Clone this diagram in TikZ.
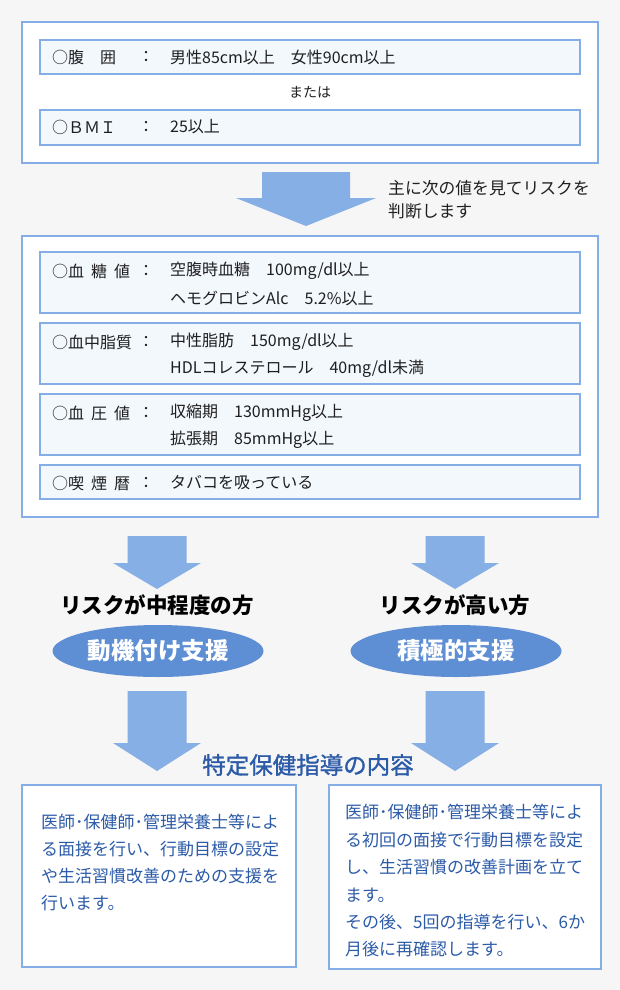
\documentclass[tikz,border=0pt]{standalone}
\usepackage{fontspec}
\setmainfont{Noto Sans CJK JP}
\newfontfamily\medfont[FakeBold=1.3]{Noto Sans CJK JP}
\usetikzlibrary{shapes.geometric}
\definecolor{bgcol}{HTML}{F7F6F6}
\definecolor{linecol}{HTML}{86AEE6}
\definecolor{rowcol}{HTML}{F3F8FD}
\definecolor{arrowcol}{HTML}{86AFE6}
\definecolor{ovalcol}{HTML}{5E8FD4}
\definecolor{textblue}{HTML}{2C5BA8}

\begin{document}
\begin{tikzpicture}[x=1pt,y=-1pt,
  box/.style={draw=linecol,line width=1.3pt,fill=white,anchor=north west,inner sep=0pt,outer sep=0pt},
  row/.style={box,fill=rowcol,minimum width=540pt},
  txt/.style={anchor=west,inner sep=0pt,text=black!88,font=\fontsize{16}{19}\selectfont},
  colon/.style={txt,anchor=center},
  head/.style={inner sep=0pt,text=black,font=\fontsize{21.5}{25}\selectfont\bfseries},
  oval/.style={ellipse,fill=ovalcol,minimum width=211pt,minimum height=52pt,inner sep=0pt,
    text=white,font=\fontsize{23.5}{27}\selectfont\bfseries},
  note/.style={anchor=west,inner sep=0pt,text=textblue,font=\fontsize{17}{20}\selectfont}]
  \fill[bgcol] (0,0) rectangle (620,990);
  % outer boxes
  \node (top) [box,minimum width=576pt,minimum height=141pt] at (22,22) {};
  \node (mid) [box,minimum width=576pt,minimum height=281pt] at (22,236) {};
  \node (lbox) [box,minimum width=274pt,minimum height=182pt] at (22,785) {};
  \node (rbox) [box,minimum width=272pt,minimum height=184pt] at (329,785) {};
  % rows
  \node (r1) [row,minimum height=34pt] at (40,40) {};
  \node (r2) [row,minimum height=35pt] at (40,110) {};
  \node (r3) [row,minimum height=61pt] at (40,252) {};
  \node (r4) [row,minimum height=61pt] at (40,323) {};
  \node (r5) [row,minimum height=61pt] at (40,394) {};
  \node (r6) [row,minimum height=34pt] at (40,465) {};
  \node (r1_l) [txt] at (52,57) {○腹　囲};
  \node (r1_c) [colon] at (146,57) {：};
  \node (r1_v) [txt] at (170,57) {男性85cm以上　女性90cm以上};
  \node (or) [txt,anchor=center,font=\fontsize{14}{17}\selectfont] at (310,92) {または};
  \node (r2_l) [txt] at (52,127) {○ＢＭＩ};
  \node (r2_c) [colon] at (146,127) {：};
  \node (r2_v) [txt] at (170,127) {25以上};
  \node (r3_l) [txt] at (52,271) {○血\hspace{7pt}糖\hspace{7pt}値};
  \node (r3_c) [colon] at (146,271) {：};
  \node (r3_v) [txt] at (170,271) {空腹時血糖　100mg/dl以上};
  \node (r3_w) [txt] at (170,298) {ヘモグロビンAlc　5.2\%以上};
  \node (r4_l) [txt] at (52,342) {○血中脂質};
  \node (r4_c) [colon] at (146,342) {：};
  \node (r4_v) [txt] at (170,342) {中性脂肪　150mg/dl以上};
  \node (r4_w) [txt] at (170,369) {HDLコレステロール　40mg/dl未満};
  \node (r5_l) [txt] at (52,413) {○血\hspace{7pt}圧\hspace{7pt}値};
  \node (r5_c) [colon] at (146,413) {：};
  \node (r5_v) [txt] at (170,413) {収縮期　130mmHg以上};
  \node (r5_w) [txt] at (170,440) {拡張期　85mmHg以上};
  \node (r6_l) [txt] at (52,483) {○喫\hspace{7pt}煙\hspace{7pt}暦};
  \node (r6_c) [colon] at (146,483) {：};
  \node (r6_v) [txt] at (170,483) {タバコを吸っている};
  % block arrows
  \foreach \cx/\ya/\yb/\yc/\s/\h in {306/172/198/226/44/70,157/536/563/589/29.5/44,
    455/536/563/589/29.5/44,157/691/743/771/29.5/44,455/691/743/771/29.5/44}
    \fill[arrowcol] ({\cx-\s},\ya) -- ({\cx+\s},\ya) -- ({\cx+\s},\yb) -- ({\cx+\h},\yb)
      -- (\cx,\yc) -- ({\cx-\h},\yb) -- ({\cx-\s},\yb) -- cycle;
  \node (judge1) [txt,font=\fontsize{16.8}{20}\selectfont] at (388,188) {主に次の値を見てリスクを};
  \node (judge2) [txt,font=\fontsize{16.8}{20}\selectfont] at (388,211) {判断します};
  \node (mod) [head] at (157,605) {リスクが中程度の方};
  \node (high) [head] at (455,605) {リスクが高い方};
  \node (motiv) [oval] at (158,651) {動機付け支援};
  \node (activ) [oval] at (456,651) {積極的支援};
  \node (title) [inner sep=0pt,text=textblue,font=\fontsize{23.5}{27}\medfont] at (308,765) {特定保健指導の内容};
  % guidance texts
  \node (l1) [note] at (41,822) {医師･保健師･管理栄養士等によ};
  \node (l2) [note] at (41,849) {る面接を行い、行動目標の設定};
  \node (l3) [note] at (41,876) {や生活習慣改善のための支援を};
  \node (l4) [note] at (41,903) {行います。};
  \node (p1) [note] at (345,812) {医師･保健師･管理栄養士等によ};
  \node (p2) [note] at (345,840) {る初回の面接で行動目標を設定};
  \node (p3) [note] at (345,867) {し、生活習慣の改善計画を立て};
  \node (p4) [note] at (345,895) {ます。};
  \node (p5) [note] at (345,922) {その後、5回の指導を行い、6か};
  \node (p6) [note] at (345,949) {月後に再確認します。};
\end{tikzpicture}
\end{document}
